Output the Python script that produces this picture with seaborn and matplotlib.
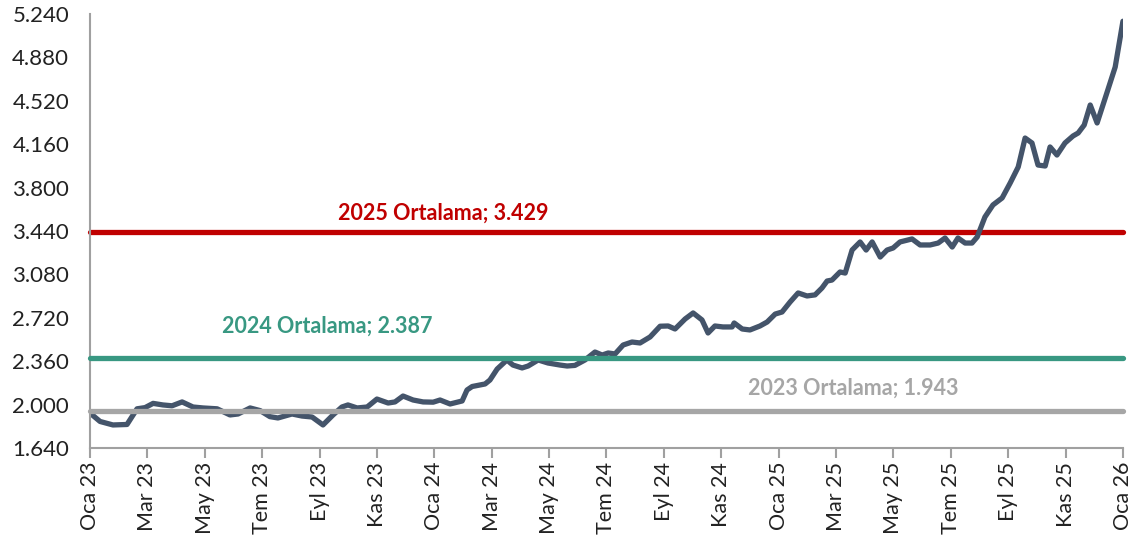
import matplotlib
matplotlib.use("Agg")
import matplotlib.pyplot as plt
import seaborn as sns
import pandas as pd

# months since Oca 23
months = [0.00, 0.35, 0.80, 1.29, 1.64, 1.92, 2.20, 2.54, 2.86, 3.21, 3.59, 3.94,
          4.43, 4.88, 5.16, 5.58, 5.93, 6.27, 6.55, 7.04, 7.39, 7.74, 8.12, 8.47,
          8.78, 8.99, 9.31, 9.66, 10.00, 10.39, 10.63, 10.91, 11.26, 11.61, 11.96,
          12.20, 12.55, 12.97, 13.14, 13.32, 13.77, 13.94, 14.19, 14.53, 14.74,
          15.06, 15.27, 15.62, 15.96, 16.38, 16.63, 16.90, 17.25, 17.60, 17.85,
          18.06, 18.30, 18.58, 18.89, 19.17, 19.52, 19.87, 20.15, 20.39, 20.74,
          21.02, 21.33, 21.54, 21.78, 22.06, 22.38, 22.45, 22.73, 23.00, 23.35,
          23.60, 23.88, 24.12, 24.40, 24.68, 24.99, 25.27, 25.51, 25.69, 25.86,
          26.14, 26.32, 26.56, 26.84, 27.05, 27.26, 27.54, 27.78, 27.99, 28.23,
          28.65, 28.93, 29.28, 29.56, 29.80, 30.05, 30.25, 30.50, 30.74, 30.92,
          31.19, 31.47, 31.79, 32.07, 32.35, 32.59, 32.83, 33.04, 33.29, 33.46,
          33.70, 33.98, 34.26, 34.44, 34.65, 34.86, 35.10, 35.45, 35.73, 36.00]
values = [1.930, 1.860, 1.831, 1.835, 1.965, 1.975, 2.010, 1.997, 1.990, 2.022, 1.980, 1.972,
          1.965, 1.914, 1.922, 1.972, 1.950, 1.900, 1.889, 1.922, 1.905, 1.897, 1.831, 1.914,
          1.980, 1.997, 1.972, 1.980, 2.046, 2.013, 2.022, 2.071, 2.038, 2.022, 2.020,
          2.038, 2.005, 2.030, 2.121, 2.150, 2.171, 2.204, 2.295, 2.370, 2.328,
          2.304, 2.320, 2.370, 2.345, 2.328, 2.320, 2.325, 2.370, 2.436, 2.411,
          2.428, 2.420, 2.494, 2.519, 2.511, 2.561, 2.650, 2.652, 2.627, 2.710,
          2.760, 2.702, 2.594, 2.652, 2.644, 2.644, 2.677, 2.627, 2.619, 2.652,
          2.685, 2.751, 2.768, 2.851, 2.926, 2.901, 2.910, 2.967, 3.025, 3.033,
          3.100, 3.091, 3.282, 3.349, 3.282, 3.349, 3.224, 3.282, 3.299, 3.349,
          3.374, 3.324, 3.324, 3.340, 3.382, 3.307, 3.382, 3.340, 3.340, 3.390,
          3.556, 3.656, 3.714, 3.838, 3.971, 4.211, 4.170, 3.987, 3.979, 4.137,
          4.070, 4.170, 4.228, 4.253, 4.319, 4.485, 4.336, 4.593, 4.800, 5.180]

tick_pos = list(range(0, 37, 2))
tick_labels = ["Oca 23", "Mar 23", "May 23", "Tem 23", "Eyl 23", "Kas 23",
               "Oca 24", "Mar 24", "May 24", "Tem 24", "Eyl 24", "Kas 24",
               "Oca 25", "Mar 25", "May 25", "Tem 25", "Eyl 25", "Kas 25", "Oca 26"]

avg_labels = ["2025 Ortalama", "2024 Ortalama", "2023 Ortalama"]
avg_values = [3.429, 2.387, 1.943]
avg_colors = ["#C00000", "#389882", "#A6A6A6"]
avg_text_x = [12.3, 8.27, 26.6]
avg_text_dy = [0.16, 0.265, 0.19]
avg_z = [1, 3, 3]

df = pd.DataFrame({"month": months, "value": values})

sns.set_style("white")
plt.rcParams["font.family"] = ["Lato", "DejaVu Sans"]

fig = plt.figure(figsize=(11.32, 5.40), dpi=100)
ax = fig.add_axes([0.0795, 0.1704, 0.9125, 0.8037])

sns.lineplot(data=df, x="month", y="value", ax=ax, color="#44546A", linewidth=3.8, zorder=2)

for lab, v, c, tx, dy, z in zip(avg_labels, avg_values, avg_colors, avg_text_x, avg_text_dy, avg_z):
    ax.plot([0, 36], [v, v], color=c, linewidth=3.8, solid_capstyle="round", zorder=z, clip_on=False)
    ax.text(tx, v + dy, f"{lab}; {v:.3f}", color=c, fontsize=15.5, fontweight="bold",
            ha="center", va="center")

ax.set_xlim(0, 36)
ax.set_ylim(1.64, 5.24)
ax.set_yticks([1.64 + 0.36 * i for i in range(11)])
ax.set_yticklabels([f"{1.64 + 0.36 * i:.3f}" for i in range(11)], fontsize=16, color="#222222")
ax.set_xticks(tick_pos)
ax.set_xticklabels(tick_labels, rotation=90, fontsize=15.5, color="#222222")
ax.set_xlabel("")
ax.set_ylabel("")

for s in ["top", "right"]:
    ax.spines[s].set_visible(False)
for s in ["left", "bottom"]:
    ax.spines[s].set_color("#A0A0A0")
    ax.spines[s].set_linewidth(1.5)
ax.tick_params(axis="x", direction="out", length=7, width=1.5, color="#A0A0A0", pad=3, bottom=True)
ax.tick_params(axis="y", length=0, pad=15)

fig.savefig("out.png", dpi=100)
